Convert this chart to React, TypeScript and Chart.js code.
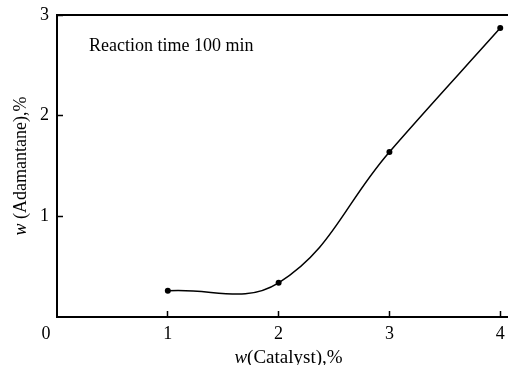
import React, { useEffect, useRef } from 'react';
import { Chart, registerables } from 'chart.js';

Chart.register(...registerables);

const catalyst = [1, 2, 3, 4];
const adamantane = [0.26, 0.34, 1.64, 2.87];
const xTicks = [0, 1, 2, 3, 4];
const yTicks = [0, 1, 2, 3];
const annotation = 'Reaction time 100 min';
const xTitleVar = 'w';
const xTitleRest = '(Catalyst),%';
const yTitleVar = 'w';
const yTitleRest = ' (Adamantane),%';

const SERIF = '"Liberation Serif", "DejaVu Serif", "Times New Roman", serif';

function drawMixed(ctx: CanvasRenderingContext2D, ital: string, rest: string, cx: number, y: number, size: number) {
  ctx.font = `italic ${size}px ${SERIF}`;
  const w1 = ctx.measureText(ital).width;
  ctx.font = `${size}px ${SERIF}`;
  const w2 = ctx.measureText(rest).width;
  const start = cx - (w1 + w2) / 2;
  ctx.textAlign = 'left';
  ctx.font = `italic ${size}px ${SERIF}`;
  ctx.fillText(ital, start, y);
  ctx.font = `${size}px ${SERIF}`;
  ctx.fillText(rest, start + w1, y);
}

const textPlugin = {
  id: 'textPlugin',
  afterDraw(chart: any) {
    const { ctx, chartArea } = chart;
    const xs = chart.scales.x;
    ctx.save();
    ctx.fillStyle = '#000';
    ctx.font = `18px ${SERIF}`;
    ctx.textAlign = 'center';
    ctx.textBaseline = 'middle';
    ctx.fillText('0', xs.getPixelForValue(0) - 11, chartArea.bottom + 17);
    ctx.textAlign = 'left';
    ctx.textBaseline = 'alphabetic';
    ctx.fillText(annotation, chartArea.left + 32, chartArea.top + 36);
    drawMixed(ctx, xTitleVar, xTitleRest, (chartArea.left + chartArea.right) / 2 + 6, chartArea.bottom + 46, 19);
    ctx.save();
    ctx.translate(21, (chartArea.top + chartArea.bottom) / 2);
    ctx.rotate(-Math.PI / 2);
    ctx.textBaseline = 'middle';
    drawMixed(ctx, yTitleVar, yTitleRest, 0, 0, 18);
    ctx.restore();
    ctx.restore();
  },
};

const zeroPad = (s: any) => {
  s.paddingTop = 0;
  s.paddingBottom = 0;
  s.paddingLeft = 0;
  s.paddingRight = 0;
};

export default function App() {
  const ref = useRef<HTMLCanvasElement | null>(null);
  useEffect(() => {
    const canvas = ref.current;
    if (!canvas) return;
    const tickFont = { family: SERIF, size: 18 };
    const chart = new Chart(canvas, {
      type: 'line',
      data: {
        datasets: [
          {
            data: catalyst.map((c, i) => ({ x: c, y: adamantane[i] })),
            borderColor: '#000',
            borderWidth: 1.5,
            tension: 0.4,
            pointRadius: 3,
            pointBackgroundColor: '#000',
            pointBorderWidth: 0,
            fill: false,
            clip: false,
          },
        ],
      },
      options: {
        animation: false,
        responsive: false,
        devicePixelRatio: 1,
        layout: { autoPadding: false, padding: { top: 15, right: 0, left: 0, bottom: 0 } },
        plugins: { legend: { display: false }, tooltip: { enabled: false } },
        scales: {
          x: {
            type: 'linear',
            position: 'bottom',
            min: 0,
            max: 4.07,
            afterBuildTicks: (s: any) => {
              s.ticks = xTicks.map((v) => ({ value: v }));
            },
            ticks: {
              includeBounds: false,
              autoSkip: false,
              maxRotation: 0,
              padding: 12,
              color: '#000',
              font: tickFont,
              callback: (v: any) => (v === 0 ? '' : String(v)),
            },
            grid: {
              drawOnChartArea: false,
              drawTicks: true,
              tickLength: -6,
              tickWidth: 1.5,
              tickColor: (c: any) => (c.tick && c.tick.value === 0 ? 'rgba(0,0,0,0)' : '#000'),
              color: '#000',
            },
            border: { display: true, color: '#000', width: 2 },
            afterFit: (s: any) => {
              s.height = 48;
              zeroPad(s);
            },
          },
          x2: {
            type: 'linear',
            position: 'top',
            min: 0,
            max: 4.07,
            ticks: { display: false },
            grid: { display: false, drawTicks: false },
            border: { display: true, color: '#000', width: 2 },
            afterFit: (s: any) => {
              s.height = 0;
              zeroPad(s);
            },
          },
          y: {
            type: 'linear',
            min: 0,
            max: 3,
            afterBuildTicks: (s: any) => {
              s.ticks = yTicks.map((v) => ({ value: v }));
            },
            ticks: {
              padding: 14,
              color: '#000',
              font: tickFont,
              callback: (v: any) => (v === 0 ? '' : String(v)),
            },
            grid: {
              drawOnChartArea: false,
              drawTicks: true,
              tickLength: -6,
              tickWidth: 1.5,
              tickColor: (c: any) => (c.tick && c.tick.value === 0 ? 'rgba(0,0,0,0)' : '#000'),
              color: '#000',
            },
            border: { display: true, color: '#000', width: 2 },
            afterFit: (s: any) => {
              s.width = 57;
              zeroPad(s);
            },
          },
        },
      } as any,
      plugins: [textPlugin],
    });
    return () => chart.destroy();
  }, []);
  return (
    <div style={{ position: 'fixed', left: 0, top: 0, width: 508, height: 365, background: '#fff' }}>
      <canvas ref={ref} width={508} height={365} style={{ display: 'block', width: 508, height: 365 }} />
    </div>
  );
}
